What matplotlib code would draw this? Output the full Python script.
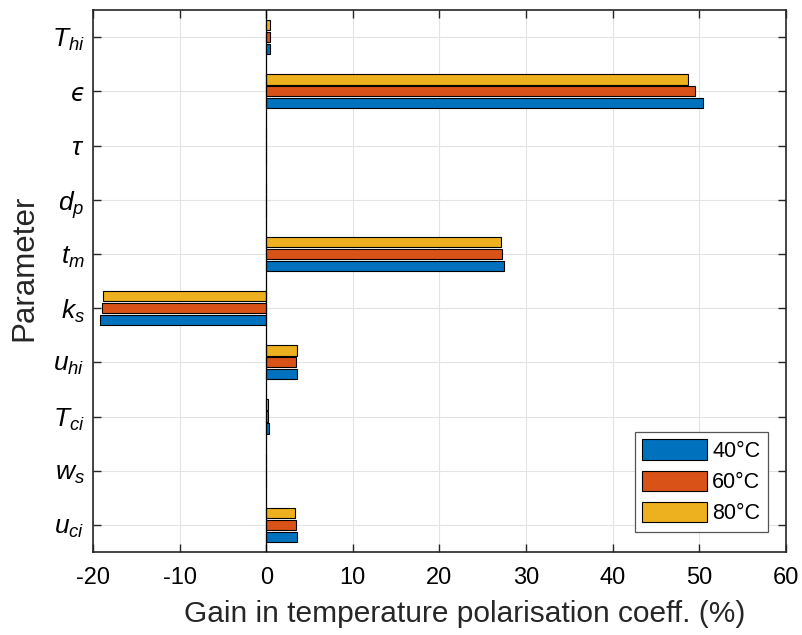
import matplotlib
matplotlib.use('Agg')
import matplotlib.pyplot as plt
import numpy as np

plt.rcParams['font.family'] = ['Liberation Sans', 'DejaVu Sans']
plt.rcParams['mathtext.fontset'] = 'custom'
plt.rcParams['mathtext.it'] = 'Liberation Sans:italic'
plt.rcParams['mathtext.rm'] = 'Liberation Sans'
plt.rcParams['axes.unicode_minus'] = False

# parameters, bottom to top
params = [r'$u_{ci}$', r'$w_s$', r'$T_{ci}$', r'$u_{hi}$', r'$k_s$',
          r'$t_m$', r'$d_p$', r'$\tau$', 'ϵ', r'$T_{hi}$']
gain_40 = [3.5, 0.02, 0.3, 3.5, -19.2, 27.4, 0.02, 0.02, 50.4, 0.45]
gain_60 = [3.45, 0.02, 0.25, 3.45, -19.0, 27.2, 0.02, 0.02, 49.5, 0.42]
gain_80 = [3.3, 0.02, 0.2, 3.6, -18.8, 27.1, 0.02, 0.02, 48.7, 0.38]
series_names = ['40°C', '60°C', '80°C']
colors = ['#0072BD', '#D95319', '#EDB120']

fig = plt.figure(figsize=(8.03, 6.35), dpi=100)
ax = fig.add_axes([93/803, 1 - 552/635, (786 - 93)/803, (552 - 10)/635])

y = np.arange(1, len(params) + 1)
offs = [-0.22, 0, 0.22]
for vals, off, c, name in zip([gain_40, gain_60, gain_80], offs, colors, series_names):
    ax.barh(y + off, vals, height=0.19, color=c, edgecolor='black', linewidth=0.8, label=name, zorder=3)

ax.axvline(0, color='black', linewidth=0.9, zorder=4)
ax.set_xlim(-20, 60)
ax.set_ylim(0.5, 10.5)
ax.set_yticks(y)
ax.set_yticklabels(params, fontsize=19)
for t in ax.get_yticklabels():
    if t.get_text() == 'ϵ':
        t.set_fontfamily('DejaVu Sans')
        t.set_fontstyle('italic')
        t.set_fontsize(17)
ax.set_xticks(np.arange(-20, 61, 10))
ax.tick_params(axis='x', labelsize=17, pad=11)
ax.tick_params(axis='y', pad=6)
ax.tick_params(direction='in', top=True, right=True, length=6, width=1.0, color='#262626')
ax.grid(True, color='#e3e3e3', linewidth=0.8, zorder=0)
for s in ax.spines.values():
    s.set_linewidth(1.2)
    s.set_color('#262626')

ax.set_xlabel('Gain in temperature polarisation coeff. (%)', fontsize=21.5, color='#262626')
ax.set_ylabel('Parameter', fontsize=22.5, color='#262626')
# label centres (pixels)
ax.xaxis.set_label_coords((465 - 93)/693, -(614 - 552)/542, transform=ax.transAxes)
ax.xaxis.label.set_va('center')
ax.yaxis.set_label_coords(-(93 - 24)/693, (552 - 268)/542, transform=ax.transAxes)
ax.yaxis.label.set_va('center')

leg = ax.legend(loc='lower right', fontsize=15.5, fancybox=False, edgecolor='#555555',
                handlelength=3.0, handleheight=1.1, handletextpad=0.25, labelspacing=0.4,
                borderpad=0.35, borderaxespad=0.0, framealpha=1,
                bbox_to_anchor=(768/803, 1 - 532/635), bbox_transform=fig.transFigure)
leg.get_frame().set_linewidth(0.9)

fig.savefig('out.png', dpi=100)
